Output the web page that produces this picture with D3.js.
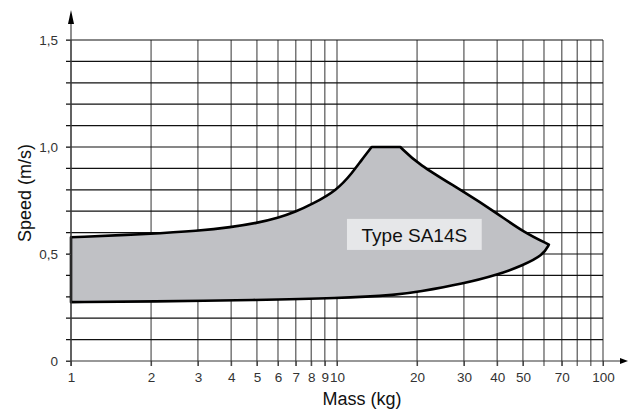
<!DOCTYPE html>
<html>
<head>
<meta charset="utf-8">
<script src="https://cdn.jsdelivr.net/npm/d3@7"></script>
<style>
  body { margin: 0; background: #fff; }
  text { font-family: "Liberation Sans", Arial, sans-serif; }
</style>
</head>
<body>
<div id="viz"></div>
<script>
// grid / tick values
var massTicks = [1, 2, 3, 4, 5, 6, 7, 8, 9, 10, 20, 30, 40, 50, 60, 70, 80, 90, 100];
var massLabels = [1, 2, 3, 4, 5, 6, 7, 8, 9, 10, 20, 30, 40, 50, 70, 100];
var speedGrid = [0, 0.1, 0.2, 0.3, 0.4, 0.5, 0.6, 0.7, 0.8, 0.9, 1.0, 1.1, 1.2, 1.3, 1.4, 1.5];
var speedLabels = [0, 0.5, 1.0, 1.5];

// envelope of the SA14S working range
var riseMass = [1, 2, 3, 4, 5, 6, 7, 8, 10, 11.5, 12.3, 13.5];
var riseSpeed = [0.578, 0.594, 0.608, 0.625, 0.645, 0.668, 0.698, 0.731, 0.797, 0.885, 0.935, 1.0];
var fallMass = [17.3, 20, 30, 40, 50, 62.6];
var fallSpeed = [1.0, 0.922, 0.791, 0.69, 0.604, 0.544];
var lowMass = [62.6, 59.6, 50, 40, 30, 20, 17.2, 10, 5, 2, 1];
var lowSpeed = [0.544, 0.495, 0.447, 0.402, 0.362, 0.322, 0.31, 0.293, 0.285, 0.278, 0.275];

var svg = d3.select("#viz")
  .append("svg")
  .attr("width", 628)
  .attr("height", 413);

var x = d3.scaleLog().domain([1, 100]).range([71, 603]);
var y = d3.scaleLinear().domain([0, 1.5]).range([361, 40]);

// grid
svg.selectAll("line.v").data(massTicks).enter()
  .append("line")
  .attr("x1", function(d) {return x(d);})
  .attr("x2", function(d) {return x(d);})
  .attr("y1", y(0) + 5)
  .attr("y2", y(1.5))
  .style("stroke", function(d) {return d == 1 ? "#444" : "#555";})
  .style("stroke-width", 1.2);

svg.selectAll("line.h").data(speedGrid.slice(1)).enter()
  .append("line")
  .attr("x1", x(1) - 5)
  .attr("x2", x(100))
  .attr("y1", function(d) {return y(d);})
  .attr("y2", function(d) {return y(d);})
  .style("stroke", "#111")
  .style("stroke-width", 1.2);

// the envelope
var seg = d3.line()
  .x(function(d) {return x(d[0]);})
  .y(function(d) {return y(d[1]);})
  .curve(d3.curveBasis);

var rise = d3.zip(riseMass, riseSpeed);
var fall = d3.zip(fallMass, fallSpeed);
var low = d3.zip(lowMass, lowSpeed);

var p = seg(rise)
  + seg(fall).replace(/^M/, "L")
  + seg(low).replace(/^M/, "L")
  + "Z";

svg.append("path")
  .attr("d", p)
  .style("fill", "#c0c1c5")
  .style("stroke", "#000")
  .style("stroke-width", 2.6)
  .style("stroke-linejoin", "round");

// axes
var xAxis = d3.axisBottom(x)
  .tickValues(massLabels)
  .tickFormat(d3.format("d"))
  .tickSize(5)
  .tickPadding(6);

var gx = svg.append("g")
  .attr("transform", "translate(0," + y(0) + ")")
  .call(xAxis);
gx.select(".domain").remove();
gx.selectAll("line").style("stroke", "#444");
gx.selectAll("text")
  .style("font-size", "13.5px")
  .style("fill", "#333");

var yAxis = d3.axisLeft(y)
  .tickValues(speedLabels)
  .tickFormat(function(d) {return d == 0 ? "0" : d3.format(".1f")(d).replace(".", ",");})
  .tickSize(5)
  .tickPadding(8);

var gy = svg.append("g")
  .attr("transform", "translate(" + x(1) + ",0)")
  .call(yAxis);
gy.select(".domain").remove();
gy.selectAll("line").style("stroke", "#444");
gy.selectAll("text")
  .style("font-size", "13.5px")
  .style("fill", "#333");

// axis lines with arrows
svg.append("line")
  .attr("x1", x(1) - 5).attr("x2", 622)
  .attr("y1", y(0)).attr("y2", y(0))
  .style("stroke", "#333").style("stroke-width", 1.2);
svg.append("path")
  .attr("d", "M628," + y(0) + "L620," + (y(0) - 3) + "L620," + (y(0) + 3) + "Z")
  .style("fill", "#000");

svg.append("line")
  .attr("x1", x(1)).attr("x2", x(1))
  .attr("y1", y(0) + 5).attr("y2", 18)
  .style("stroke", "#444").style("stroke-width", 1.2);
svg.append("path")
  .attr("d", "M" + x(1) + ",10L" + (x(1) - 3) + ",24L" + (x(1) + 3) + ",24Z")
  .style("fill", "#000");

// type label
svg.append("rect")
  .attr("x", x(10.9))
  .attr("y", y(0.664))
  .attr("width", x(35) - x(10.9))
  .attr("height", y(0.519) - y(0.664))
  .style("fill", "#e6e7e9");

svg.append("text")
  .attr("x", (x(10.9) + x(35)) / 2)
  .attr("y", y(0.554))
  .attr("text-anchor", "middle")
  .style("font-size", "19px")
  .style("fill", "#111")
  .text("Type SA14S");

// axis titles
svg.append("text")
  .attr("x", 362)
  .attr("y", 405)
  .attr("text-anchor", "middle")
  .style("font-size", "18px")
  .style("fill", "#111")
  .text("Mass (kg)");

svg.append("text")
  .attr("transform", "translate(31,193) rotate(-90)")
  .attr("text-anchor", "middle")
  .style("font-size", "18px")
  .style("fill", "#111")
  .text("Speed (m/s)");
</script>
</body>
</html>
